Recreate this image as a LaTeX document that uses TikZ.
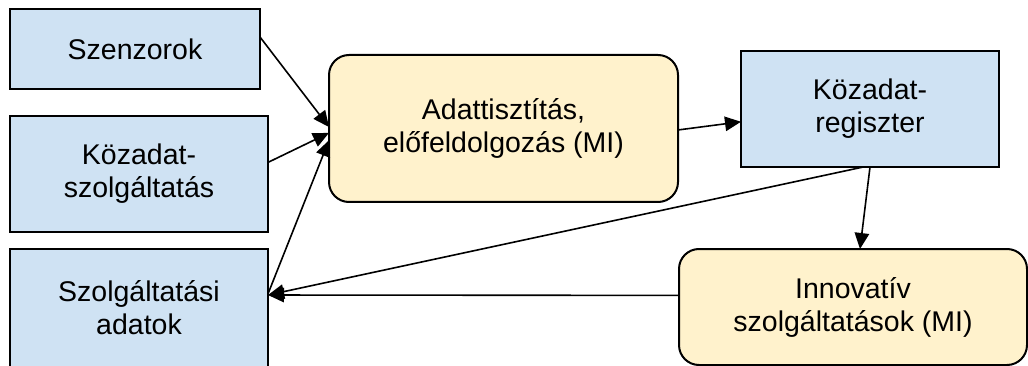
\documentclass[tikz,border=0pt]{standalone}
\usepackage{fontspec}
\setmainfont{Liberation Sans}
\usetikzlibrary{arrows.meta,calc}
\definecolor{bluefill}{HTML}{CFE2F3}
\definecolor{yellowfill}{HTML}{FFF2CC}
\begin{document}
\begin{tikzpicture}[x=1pt,y=-1pt,
  bluebox/.style={draw=black, line width=2pt, fill=bluefill, align=center,
    inner sep=0pt, outer sep=0pt, font=\fontsize{28.5}{33}\selectfont},
  yellowbox/.style={bluebox, fill=yellowfill, rounded corners=20pt},
  conn/.style={line width=1.6pt, -{Triangle[length=16pt,width=14.5pt]}}]
\useasboundingbox (0,0) rectangle (1028,366);
\node[bluebox, minimum width=250pt, minimum height=80pt] (sz) at (135,49) {Szenzorok};
\node[bluebox, minimum width=258pt, minimum height=116pt] (ks) at (139,174) {Közadat-\\szolgáltatás};
\node[bluebox, minimum width=258pt, minimum height=118pt] (sa) at (139,308) {Szolgáltatási\\adatok};
\node[yellowbox, minimum width=349pt, minimum height=147pt] (ad) at (503.5,128.5) {Adattisztítás,\\előfeldolgozás (MI)};
\node[bluebox, minimum width=258pt, minimum height=116pt] (rg) at (870,109) {Közadat-\\regiszter};
\node[yellowbox, minimum width=348pt, minimum height=116pt] (in) at (853,307) {Innovatív\\szolgáltatások (MI)};
% connectors
\draw[conn] ($(sz.north east)!0.35!(sz.south east)$) -- ($(ad.north west)!0.49!(ad.south west)$);
\draw[conn] ($(ks.north east)!0.40!(ks.south east)$) -- ($(ad.north west)!0.53!(ad.south west)$);
\draw[conn] ($(sa.north east)!0.38!(sa.south east)$) -- ($(ad.north west)!0.58!(ad.south west)$);
\draw[conn] ($(ad.north east)!0.51!(ad.south east)$) -- ($(rg.north west)!0.61!(rg.south west)$);
\draw[conn] ($(rg.south west)!0.474!(rg.south east)$) -- ($(sa.north east)!0.39!(sa.south east)$);
\draw[conn] ($(rg.south west)!0.50!(rg.south east)$) -- ($(in.north west)!0.52!(in.north east)$);
\draw[conn] ($(in.north west)!0.40!(in.south west)$) -- ($(sa.north east)!0.39!(sa.south east)$);
\end{tikzpicture}
\end{document}
